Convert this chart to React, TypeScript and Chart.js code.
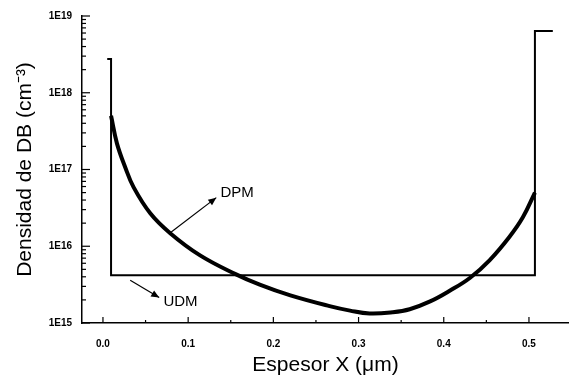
import React, { useEffect, useRef } from "react";
import { Chart, registerables } from "chart.js";

Chart.register(...registerables);

// UDM: step profile
const udmX = [0.005, 0.0095, 0.0095, 0.507, 0.507, 0.528];
const udmY = [2.75e18, 2.75e18, 4.2e15, 4.2e15, 6.4e18, 6.4e18];

// DPM: U-shaped profile
const dpmX = [0.0095, 0.0164, 0.0261, 0.0359, 0.0555, 0.0789, 0.114, 0.155, 0.184, 0.22, 0.266, 0.29, 0.313, 0.34, 0.36, 0.384, 0.407, 0.431, 0.454, 0.477, 0.493, 0.507];
const dpmY = [5.01e17, 2.19e17, 1.07e17, 5.89e16, 2.69e16, 1.48e16, 7.6e15, 4.37e15, 3.16e15, 2.29e15, 1.66e15, 1.45e15, 1.33e15, 1.38e15, 1.51e15, 1.91e15, 2.63e15, 3.89e15, 6.61e15, 1.32e16, 2.4e16, 5.01e16];

const xTicks = [0, 0.1, 0.2, 0.3, 0.4, 0.5];
const yTicks = [1e15, 1e16, 1e17, 1e18, 1e19];
const yTickLabels = ["1E15", "1E16", "1E17", "1E18", "1E19"];

// annotation anchors (data units)
const dpmLabel = { text: "DPM", x: 0.138, y: 5.0e16, ax0: 0.079, ay0: 1.5e16, ax1: 0.133, ay1: 4.3e16 };
const udmLabel = { text: "UDM", x: 0.071, y: 1.9e15, ax0: 0.032, ay0: 3.6e15, ax1: 0.066, ay1: 2.15e15 };

const decoPlugin = {
  id: "deco",
  afterDatasetsDraw(chart: any) {
    const ctx = chart.ctx;
    const xs = chart.scales.x;
    const ys = chart.scales.y;
    const area = chart.chartArea;
    ctx.save();
    ctx.strokeStyle = "#000";
    ctx.lineWidth = 1.2;
    for (let e = 15; e <= 19; e++) {
      for (let m = 1; m <= 9; m++) {
        const v = m * Math.pow(10, e);
        if (v > 1e19) break;
        const py = ys.getPixelForValue(v);
        const len = m === 1 ? 8 : 4;
        ctx.beginPath();
        ctx.moveTo(area.left, py);
        ctx.lineTo(area.left + len, py);
        ctx.stroke();
      }
    }
    for (let i = 0; i <= 10; i++) {
      const v = i * 0.05;
      const px = xs.getPixelForValue(v);
      const len = i % 2 === 0 ? 6 : 3;
      ctx.beginPath();
      ctx.moveTo(px, area.bottom);
      ctx.lineTo(px, area.bottom - len);
      ctx.stroke();
    }
    ctx.fillStyle = "#000";
    ctx.font = "15px 'Liberation Sans', Arial, sans-serif";
    ctx.textBaseline = "middle";
    ctx.textAlign = "left";
    for (const a of [dpmLabel, udmLabel]) {
      const x0 = xs.getPixelForValue(a.ax0), y0 = ys.getPixelForValue(a.ay0);
      const x1 = xs.getPixelForValue(a.ax1), y1 = ys.getPixelForValue(a.ay1);
      ctx.lineWidth = 1.2;
      ctx.beginPath();
      ctx.moveTo(x0, y0);
      ctx.lineTo(x1, y1);
      ctx.stroke();
      const ang = Math.atan2(y1 - y0, x1 - x0);
      const h = 8, w = 3.5;
      ctx.beginPath();
      ctx.moveTo(x1, y1);
      ctx.lineTo(x1 - h * Math.cos(ang) + w * Math.sin(ang), y1 - h * Math.sin(ang) - w * Math.cos(ang));
      ctx.lineTo(x1 - h * Math.cos(ang) - w * Math.sin(ang), y1 - h * Math.sin(ang) + w * Math.cos(ang));
      ctx.closePath();
      ctx.fill();
      ctx.fillText(a.text, xs.getPixelForValue(a.x), ys.getPixelForValue(a.y));
    }
    ctx.restore();
  },
};

export default function App() {
  const ref = useRef<HTMLCanvasElement | null>(null);
  useEffect(() => {
    document.body.style.margin = "0";
    const chart = new Chart(ref.current as HTMLCanvasElement, {
      type: "scatter",
      data: {
        datasets: [
          {
            label: "UDM",
            data: udmX.map((x, i) => ({ x, y: udmY[i] })),
            showLine: true,
            borderColor: "#000",
            borderWidth: 2,
            pointRadius: 0,
            tension: 0,
          },
          {
            label: "DPM",
            data: dpmX.map((x, i) => ({ x, y: dpmY[i] })),
            showLine: true,
            borderColor: "#000",
            borderWidth: 4,
            pointRadius: 0,
            tension: 0.4,
          },
        ],
      },
      options: {
        animation: false,
        responsive: false,
        maintainAspectRatio: false,
        layout: { padding: { top: 15, right: 0, left: 0, bottom: 0 } },
        plugins: { legend: { display: false }, tooltip: { enabled: false } },
        scales: {
          x: {
            type: "linear",
            min: -0.0246,
            max: 0.547,
            grid: { display: false, drawTicks: false },
            border: { display: true, color: "#000", width: 1.5 },
            afterBuildTicks: (s: any) => { s.ticks = xTicks.map((v) => ({ value: v })); },
            afterFit: (s: any) => { s.height = 60; },
            ticks: {
              color: "#000",
              padding: 15,
              maxRotation: 0,
              font: { family: "'Liberation Sans', Arial, sans-serif", size: 10, weight: "bold" },
              callback: (v: any) => Number(v).toFixed(1),
            },
            title: {
              display: true,
              text: "Espesor X (\u03bcm)",
              color: "#000",
              font: { family: "'Liberation Sans', Arial, sans-serif", size: 21 },
              padding: { top: 0, bottom: 5 },
            },
          },
          y: {
            type: "logarithmic",
            min: 1e15,
            max: 1e19,
            grid: { display: false, drawTicks: false },
            border: { display: true, color: "#000", width: 1.5 },
            afterBuildTicks: (s: any) => { s.ticks = yTicks.map((v) => ({ value: v })); },
            afterFit: (s: any) => { s.width = 82; },
            ticks: {
              color: "#000",
              padding: 10,
              font: { family: "'Liberation Sans', Arial, sans-serif", size: 10, weight: "bold" },
              callback: (v: any) => { const i = yTicks.indexOf(Number(v)); return i >= 0 ? yTickLabels[i] : ""; },
            },
            title: {
              display: true,
              text: "Densidad de DB (cm\u207b\u00b3)",
              color: "#000",
              font: { family: "'Liberation Sans', Arial, sans-serif", size: 21 },
              padding: { top: 13, bottom: 0 },
            },
          },
        },
      },
      plugins: [decoPlugin],
    } as any);
    return () => chart.destroy();
  }, []);
  return (
    <div style={{ position: "fixed", left: 0, top: 0, width: 569, height: 383, background: "#fff" }}>
      <canvas ref={ref} width={569} height={383} style={{ width: 569, height: 383 }} />
    </div>
  );
}
